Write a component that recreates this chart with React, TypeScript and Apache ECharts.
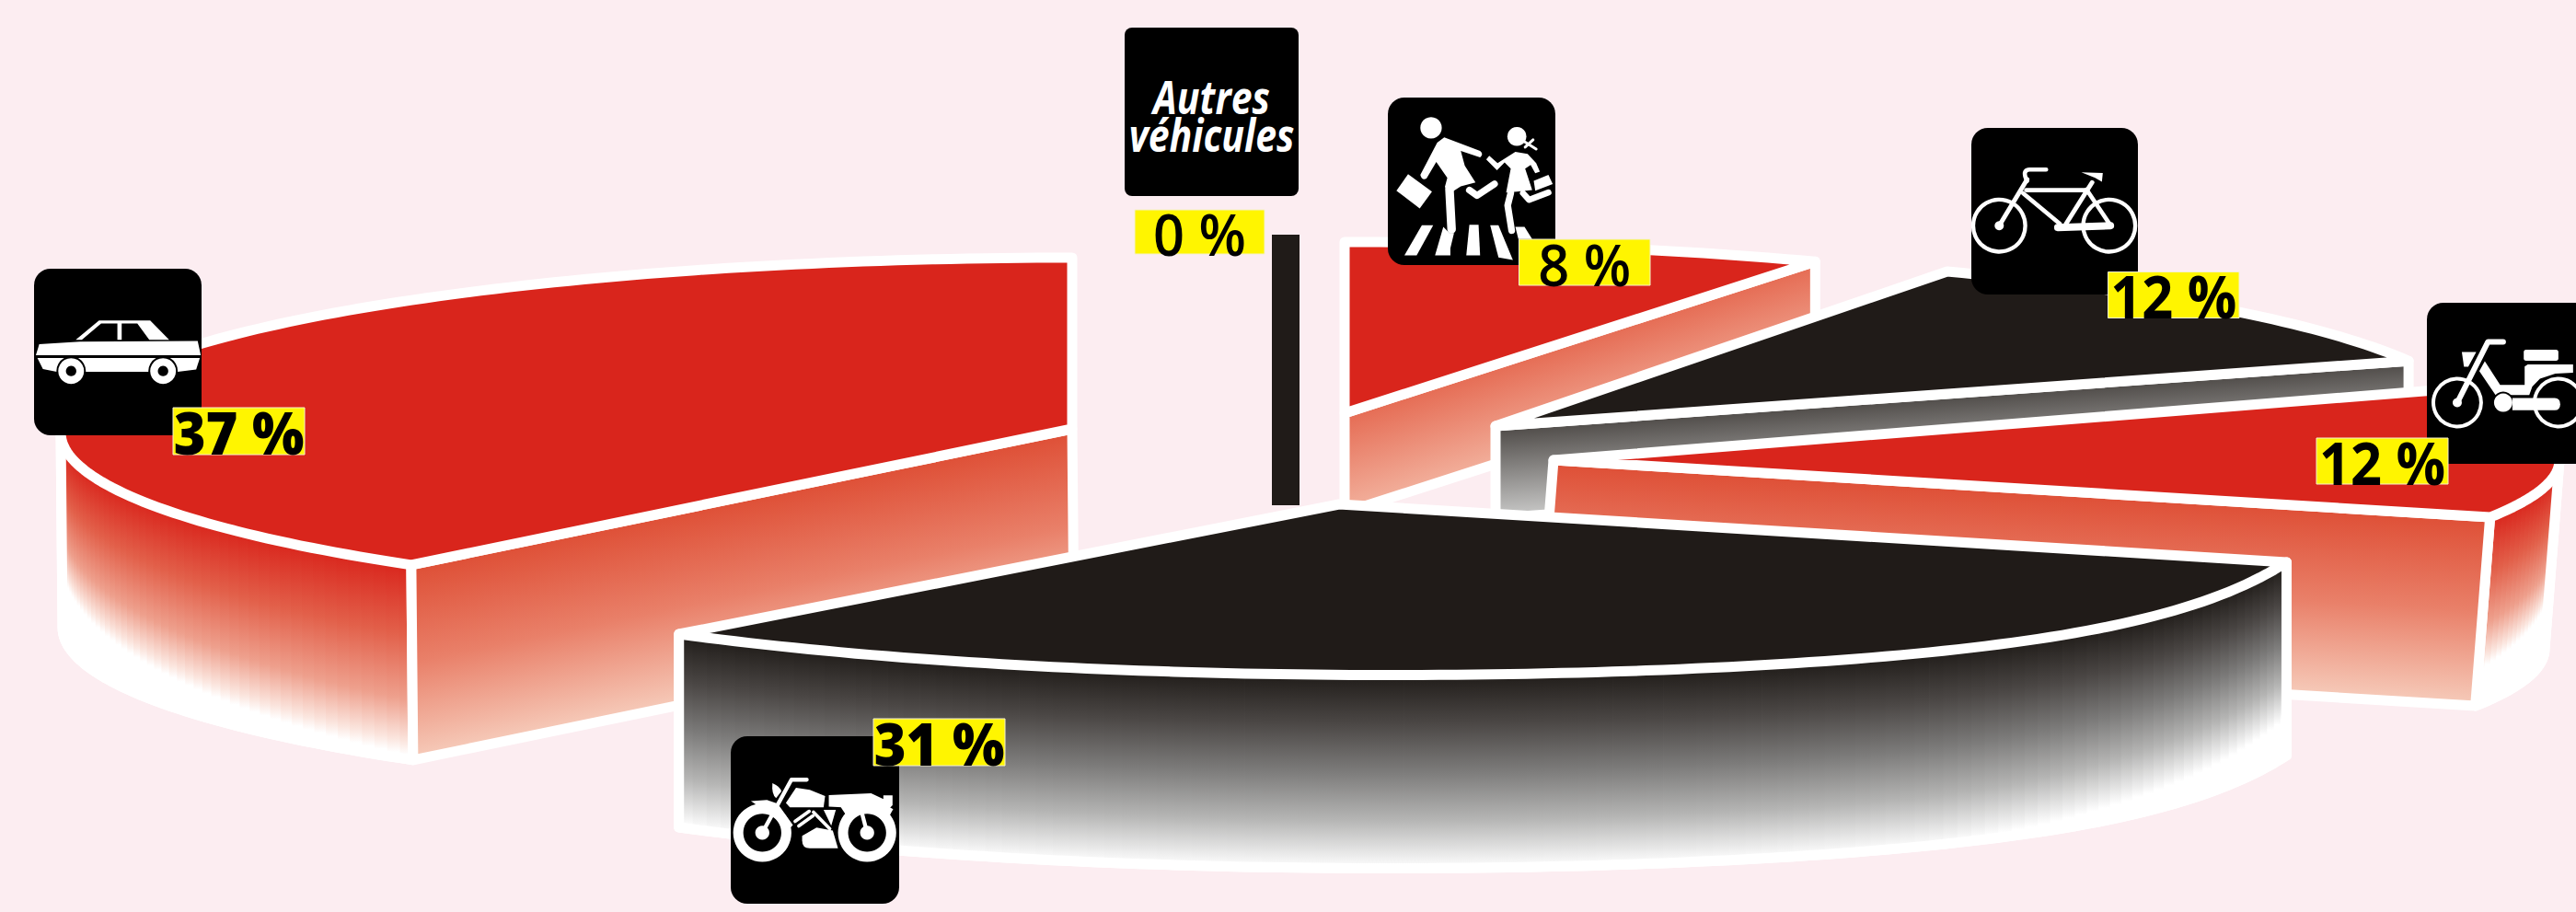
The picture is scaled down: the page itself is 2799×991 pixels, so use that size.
import React, { useEffect, useRef } from "react";
import * as echarts from "echarts";

const CATEGORIES = ["Voitures", "Motos", "Cyclomoteurs", "Vélos", "Piétons", "Autres véhicules"];
const VALUES = [37, 31, 12, 12, 8, 0];
const DRAW_ORDER = [5, 4, 3, 2, 0, 1];
const START_ANGLE = 90;

const BG = "#FCEDF1";
const RED = "#D9251C";
const BLACK = "#201B18";
const EDGE = 11;

const RED_WALL: [number, string][] = [[0, "#D9251C"], [0.37, "#E2604A"], [0.71, "#EEA08D"], [0.93, "#FBE6DF"], [1, "#FFFFFF"]];
const GRAY_WALL: [number, string][] = [[0, "#201C19"], [0.25, "#4B4745"], [0.5, "#7C7B7A"], [0.75, "#B5B5B4"], [0.95, "#F0F0F0"], [1, "#FFFFFF"]];
const RED_FACE: [number, string][] = [[0, "#DE4E35"], [0.5, "#E98069"], [1, "#F6CBBA"]];
const PED_FACE: [number, string][] = [[0, "#E56A52"], [1, "#F2B09C"]];
const GRAY_FACE: [number, string][] = [[0, "#4C4845"], [1, "#C9C9C8"]];

type Slice = {
  cx: number; cy: number; rx: number; ry: number; ax: number; ay: number; h: number; dx: number;
  n0: number; n1: number; bulge: number; top: string; face: "start" | "end" | null;
  wall: [number, string][]; faceStops: [number, string][];
};

const LAYOUT: Slice[] = [
  { cx: 1165, cy: 470, rx: 1099, ry: 190, ax: 1165, ay: 466, h: 212, dx: 2, n0: 0, n1: 6, bulge: 0, top: RED, face: "end", wall: RED_WALL, faceStops: RED_FACE },
  { cx: 1444, cy: 548, rx: 1108, ry: 183, ax: 1455, ay: 548, h: 210, dx: 0, n0: 7.2, n1: 5.1, bulge: 15, top: BLACK, face: null, wall: GRAY_WALL, faceStops: GRAY_FACE },
  { cx: 1688, cy: 500, rx: 1093, ry: 170, ax: 1688, ay: 500, h: 205, dx: -16, n0: 3.8, n1: 9, bulge: 0, top: RED, face: "start", wall: RED_WALL, faceStops: RED_FACE },
  { cx: 1625, cy: 463, rx: 1070, ry: 189, ax: 1625, ay: 463, h: 100, dx: 0, n0: 4, n1: 1.5, bulge: 0, top: BLACK, face: "start", wall: GRAY_WALL, faceStops: GRAY_FACE },
  { cx: 1461, cy: 449, rx: 1100, ry: 186, ax: 1461, ay: 449, h: 108, dx: 0, n0: 1.1, n1: 0, bulge: 0, top: RED, face: "start", wall: RED_WALL, faceStops: PED_FACE },
];
const ZERO_BAR = { x: 1382, y: 255, w: 30, h: 294 };

const TAGS = [
  { x: 188, y: 443, w: 143, h: 51, weight: 800 },
  { x: 949, y: 781, w: 143, h: 51, weight: 800 },
  { x: 2517, y: 476, w: 143, h: 50, weight: 700 },
  { x: 2290.5, y: 295.5, w: 142.5, h: 50, weight: 700 },
  { x: 1650.5, y: 260, w: 142.5, h: 50, weight: 600 },
  { x: 1233, y: 228, w: 141, h: 48, weight: 600 },
];
const BOXES = [
  { x: 37, y: 292, w: 182, h: 181, r: 18, ox: 20, oy: 280 },
  { x: 794, y: 800, w: 183, h: 182, r: 18, ox: 780, oy: 780 },
  { x: 2637, y: 329, w: 182, h: 175, r: 18, ox: 2620, oy: 320 },
  { x: 2142, y: 139, w: 181, h: 181, r: 18, ox: 2130, oy: 130 },
  { x: 1508, y: 106, w: 182, h: 182, r: 18, ox: 1500, oy: 90 },
  { x: 1222, y: 30, w: 189, h: 183, r: 8, ox: 0, oy: 0 },
];

const toRad = (d: number) => (d * Math.PI) / 180;

function sliceAngles(i: number): [number, number] {
  let a = START_ANGLE;
  for (let k = 0; k < i; k++) a += (VALUES[k] / 100) * 360;
  const b = a + (VALUES[i] / 100) * 360;
  return [a + LAYOUT[i].n0, b + LAYOUT[i].n1];
}

const white = { fill: "#FFFFFF", stroke: "#FFFFFF", lineWidth: EDGE, lineJoin: "round" };

function renderSlice(i: number) {
  if (!LAYOUT[i]) {
    return { type: "rect", shape: { x: ZERO_BAR.x, y: ZERO_BAR.y, width: ZERO_BAR.w, height: ZERO_BAR.h }, style: { fill: BLACK } };
  }
  const s = LAYOUT[i];
  const [t0, t1] = sliceAngles(i);
  const rim = (t: number): number[] => {
    const u = (t - t0) / (t1 - t0);
    const extra = s.bulge * Math.sin(Math.PI * u * u * u);
    return [s.cx + s.rx * Math.cos(toRad(t)), s.cy - s.ry * Math.sin(toRad(t)) + extra];
  };
  const low = (t: number): number[] => { const p = rim(t); return [p[0] + s.dx, p[1] + s.h]; };
  const children: any[] = [];

  const range = (a: number, b: number, step: number) => {
    const out: number[] = [];
    const n = Math.max(1, Math.ceil((b - a) / step));
    for (let k = 0; k <= n; k++) out.push(a + ((b - a) * k) / n);
    return out;
  };

  // Front wall: visible where the rim runs in the lower half of the ellipse
  const wa = Math.max(t0, 180);
  const wb = Math.min(t1, 360);
  if (wb > wa) {
    const ts = range(wa, wb, 1);
    const outline = [...ts.map(rim), ...ts.slice().reverse().map(low)];
    children.push({ type: "polygon", shape: { points: outline }, style: white });
    for (let k = 0; k < ts.length - 1; k++) {
      const ta = ts[k];
      const tb = ts[k + 1];
      const mid = (ta + tb) / 2;
      const f = 0.65 + 0.35 * Math.min(1, Math.abs(Math.sin(toRad(mid))) / 0.8);
      const stops = s.wall.map(([o, c]) => ({ offset: o * f, color: c }));
      stops.push({ offset: 1, color: "#FFFFFF" });
      const ra = rim(ta);
      const rb = rim(tb);
      const lb = low(tb);
      const la = low(ta);
      const rm = rim(mid);
      const over = ra[0] < rb[0] ? 0.8 : -0.8;
      children.push({
        type: "polygon",
        shape: { points: [ra, [rb[0] + over, rb[1]], [lb[0] + over, lb[1]], la] },
        style: { fill: new echarts.graphic.LinearGradient(rm[0], rm[1], rm[0] + s.dx, rm[1] + s.h, stops, true), stroke: "none" },
      });
    }
    children.push({ type: "polyline", shape: { points: [rim(wa), ...ts.map(low), rim(wb)] }, style: { fill: "none", stroke: "#FFFFFF", lineWidth: EDGE, lineJoin: "round" } });
  }

  // Cut face
  if (s.face) {
    const corner = rim(s.face === "start" ? t0 : t1);
    const ex = corner[0] - s.ax;
    const ey = corner[1] - s.ay;
    const len = Math.hypot(ex, ey);
    const nx = Math.abs(ey) / len;
    const ny = Math.abs(ex) / len;
    const sx = ey * ex < 0 ? 1 : -1;
    const depth = s.h * ny;
    children.push({
      type: "polygon",
      shape: { points: [[s.ax, s.ay], corner, [corner[0] + s.dx, corner[1] + s.h], [s.ax + s.dx, s.ay + s.h]] },
      style: {
        fill: new echarts.graphic.LinearGradient(
          corner[0], corner[1], corner[0] + sx * nx * depth, corner[1] + ny * depth,
          s.faceStops.map(([o, c]) => ({ offset: o, color: c })), true
        ),
        stroke: "#FFFFFF", lineWidth: EDGE, lineJoin: "round",
      },
    });
  }

  // Top
  children.push({
    type: "polygon",
    shape: { points: [[s.ax, s.ay], ...range(t0, t1, 1).map(rim)] },
    style: { fill: s.top, stroke: "#FFFFFF", lineWidth: EDGE, lineJoin: "round" },
  });
  return { type: "group", children };
}

const W = "#FFFFFF";
const K = "#000000";
const P = (d: string, fill = W) => ({ type: "path", shape: { pathData: d }, style: { fill } });
const L = (d: string, w: number) => ({ type: "path", shape: { pathData: d }, style: { fill: "none", stroke: W, lineWidth: w, lineCap: "round", lineJoin: "round" } });
const C = (cx: number, cy: number, r: number, fill = W) => ({ type: "circle", shape: { cx, cy, r }, style: { fill } });
const O = (cx: number, cy: number, r: number, w: number) => ({ type: "circle", shape: { cx, cy, r }, style: { fill: "none", stroke: W, lineWidth: w } });

const carIcon = () => [
  P("M187,268 L263,205 L430,205 L492,268 L427,268 L388,215 L337,215 L337,268 L323,268 L323,215 L270,215 L207,268 Z"),
  P("M57,318 L68,282 L200,274 L585,272 L595,318 Z"),
  P("M62,327 L592,327 L580,365 L520,372 L125,372 L80,363 Z"),
  C(172, 370, 48, K), C(472, 370, 48, K),
  C(172, 370, 42), C(472, 370, 42),
  C(172, 370, 17, K), C(472, 370, 17, K),
];
const motoIcon = () => [
  P("M178,213 Q205,225 207,240 L190,262 Q175,250 178,213 Z"),
  P("M222,278 L255,228 L300,235 L350,255 L345,292 L235,292 Z"),
  P("M362,252 L500,246 L540,265 L540,253 L570,253 L570,285 L555,300 L407,292 L362,290 Z"),
  P("M275,385 L322,358 L375,368 L392,426 L300,426 Q275,426 275,400 Z"),
  P("M345,300 L385,300 L370,352 Z"),
  L("M252,338 L298,305", 11), L("M264,353 L310,320", 11), L("M312,308 L365,362", 11),
  P("M108,272 L160,268 L195,280 L245,350 L235,360 L150,300 Z"),
  P("M400,290 L540,280 L572,298 L560,320 L420,320 Z"),
  C(145, 375, 95), C(487, 375, 95),
  C(145, 375, 62, K), C(487, 375, 62, K),
  C(145, 375, 23), C(487, 375, 23),
  L("M145,375 L240,202 L290,202", 13), L("M487,375 L470,310", 13),
];
const mopedIcon = () => [
  O(150, 353, 78, 12), O(480, 353, 78, 12),
  C(150, 353, 15),
  P("M165,188 L212,188 L186,236 L172,236 Z"),
  P("M240,218 L290,295 L370,295 L370,235 L380,228 L528,228 L528,255 L470,258 L420,275 L395,300 L390,330 L270,330 L222,250 Z", K),
  P("M240,218 L290,295 L370,295 L370,235 L380,228 L528,228 L528,255 L470,258 L420,275 L395,300 L385,328 L275,328 L222,250 Z"),
  C(300, 353, 36, K), P("M330,338 L468,338 Q486,338 486,358 Q486,378 468,378 L330,378 Z"), C(300, 353, 30),
  L("M150,353 L250,155 L300,155", 18),
  { type: "rect", shape: { x: 367, y: 180, width: 113, height: 36, r: 8 }, style: { fill: W } },
];
const bikeIcon = () => [
  O(127, 346, 85, 13), O(486, 346, 85, 13),
  C(127, 346, 15),
  L("M127,346 L218,195", 15), L("M215,230 L410,230", 14), L("M205,240 L325,340", 14), L("M345,340 L430,205", 15), L("M412,228 L490,345", 14),
  L("M318,352 L490,346", 24),
  P("M395,172 L465,174 L462,203 L440,190 Z"),
  L("M218,200 Q200,165 225,163 L280,163", 14),
];
const pedIcon = () => [
  C(165, 147, 35),
  P("M208,178 L325,222 Q338,232 325,243 L262,222 L275,270 L310,325 L262,338 L235,355 L210,340 L218,310 L182,258 L150,312 Q135,320 130,300 L185,195 Z"),
  L("M290,350 L315,368 L372,330", 22),
  L("M225,345 L232,478", 28),
  P("M90,298 L168,355 L128,410 L52,352 Z"),
  C(445, 175, 31),
  L("M470,192 L508,216", 9), L("M472,210 L498,186", 9),
  P("M440,225 L480,232 L508,262 L520,290 L505,295 L490,268 L472,280 L495,350 L445,355 L410,358 L425,280 L405,260 L380,285 L345,250 L355,238 L382,262 Z"),
  L("M425,360 L415,400 L428,482", 22),
  L("M465,360 L485,382 L548,358", 20),
  P("M500,320 L548,300 L562,330 L505,352 Z"),
  P("M135,465 L172,465 L118,563 L78,563 Z"),
  P("M205,470 L225,490 L240,490 L228,540 L228,563 L178,563 Z"),
  P("M290,463 L320,463 L325,563 L280,563 Z"),
  P("M358,465 L385,465 L432,578 L385,570 Z"),
  P("M440,470 L470,470 L495,510 L450,510 Z"),
];
const ICONS = [carIcon, motoIcon, mopedIcon, bikeIcon, pedIcon, null];

function renderSign(i: number, value: number) {
  const b = BOXES[i];
  const t = TAGS[i];
  const children: any[] = [
    { type: "rect", shape: { x: b.x, y: b.y, width: b.w, height: b.h, r: b.r }, style: { fill: K } },
  ];
  const icon = ICONS[i];
  if (icon) {
    children.push({ type: "group", x: b.ox, y: b.oy, scaleX: 1 / 3, scaleY: 1 / 3, children: icon() });
  } else {
    const parts = CATEGORIES[i].split(" ");
    parts.forEach((word, k) => {
      children.push({
        type: "text", x: b.x + b.w / 2, y: 104 + k * 41, scaleX: 0.82,
        style: { text: word, x: 0, y: 0, fill: W, font: 'italic bold 50px "Open Sans"', align: "center", verticalAlign: "middle" },
      });
    });
  }
  children.push({ type: "rect", shape: { x: t.x, y: t.y, width: t.w, height: t.h }, style: { fill: "#FFF500", stroke: "#F4F0D0", lineWidth: 1 } });
  children.push({
    type: "text", x: t.x + t.w / 2, y: t.y + t.h / 2 + 1, scaleX: 0.93,
    style: { text: `${value} %`, x: 0, y: 0, fill: K, font: `${t.weight} 64px "Open Sans"`, align: "center", verticalAlign: "middle" },
  });
  return { type: "group", children };
}

export default function App() {
  const ref = useRef<HTMLDivElement>(null);
  useEffect(() => {
    document.body.style.margin = "0";
    document.body.style.background = BG;
    const chart = echarts.init(ref.current!, undefined, { renderer: "svg" });
    chart.setOption({
      animation: false,
      backgroundColor: BG,
      series: [
        {
          type: "custom",
          coordinateSystem: "none",
          silent: true,
          z: 1,
          data: DRAW_ORDER.map((i) => ({ name: CATEGORIES[i], value: [i, VALUES[i]] })),
          renderItem: (_p: any, api: any) => renderSlice(api.value(0)),
        },
        {
          type: "custom",
          coordinateSystem: "none",
          silent: true,
          z: 2,
          data: CATEGORIES.map((n, i) => ({ name: n, value: [i, VALUES[i]] })),
          renderItem: (_p: any, api: any) => renderSign(api.value(0), api.value(1)),
        },
      ],
    });
    return () => chart.dispose();
  }, []);
  return <div ref={ref} style={{ position: "absolute", left: 0, top: 0, width: 2799, height: 991 }} />;
}
